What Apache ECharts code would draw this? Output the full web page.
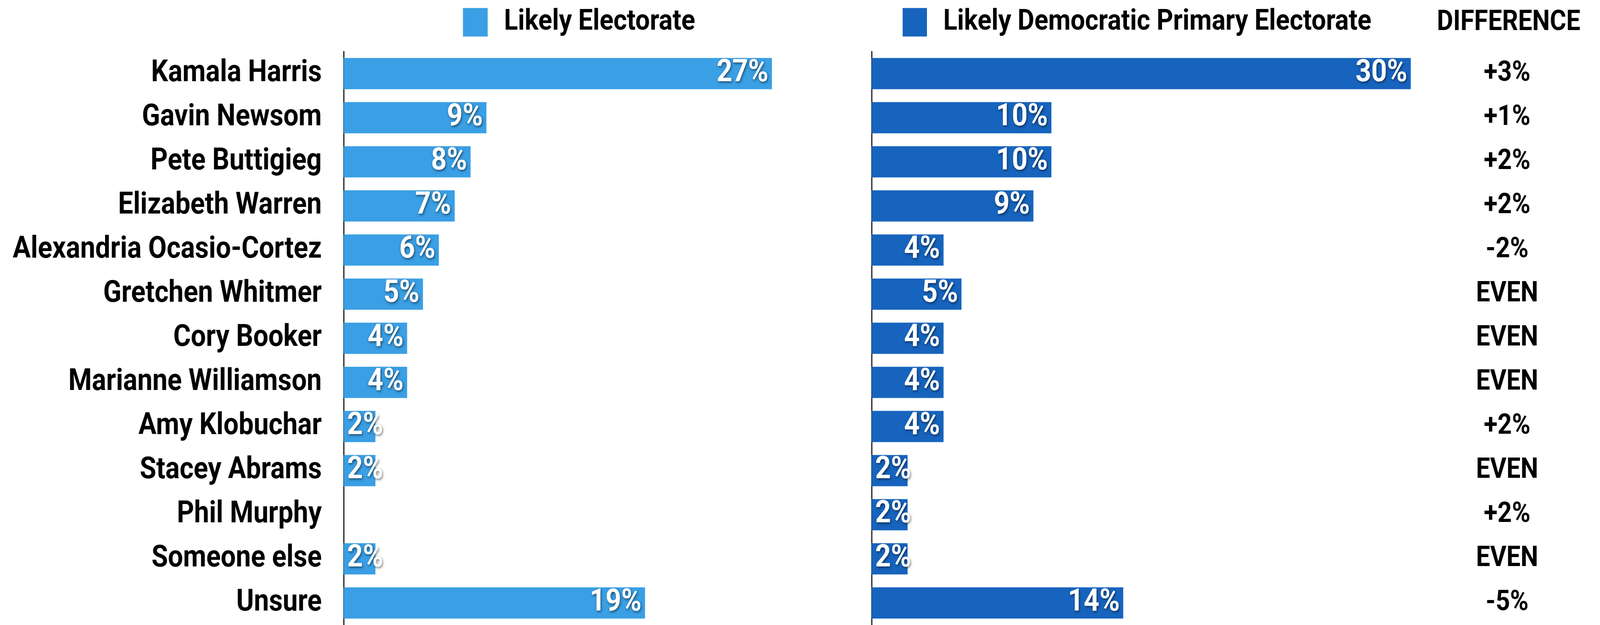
<!DOCTYPE html>
<html>
<head>
<meta charset="utf-8">
<script src="https://cdn.jsdelivr.net/npm/echarts@6/dist/echarts.min.js"></script>
<style>
html,body{margin:0;padding:0;background:#fff;overflow:hidden;}
#chart{width:4600px;height:1601px;transform-origin:0 0;}
</style>
</head>
<body>
<div id="chart"></div>
<script>
const categories = ['Kamala Harris','Gavin Newsom','Pete Buttigieg','Elizabeth Warren','Alexandria Ocasio-Cortez','Gretchen Whitmer','Cory Booker','Marianne Williamson','Amy Klobuchar','Stacey Abrams','Phil Murphy','Someone else','Unsure'];
const likelyElectorate = [27, 9, 8, 7, 6, 5, 4, 4, 2, 2, null, 2, 19];
const likelyDemPrimary = [30, 10, 10, 9, 4, 5, 4, 4, 4, 2, 2, 2, 14];
const differenceLabels = ['+3%','+1%','+2%','+2%','-2%','EVEN','EVEN','EVEN','+2%','EVEN','+2%','EVEN','-5%'];
const seriesNames = ['Likely Electorate','Likely Democratic Primary Electorate'];
const differenceTitle = 'DIFFERENCE';

// fit the 4600px-wide design into the actual window width
const el = document.getElementById('chart');
const fitX = Math.min(1, (window.innerWidth || 4600) / 4600);
el.style.transform = 'scale(' + fitX + ',1)';

const FONT = 'Roboto';
const labelBase = {
  show: true,
  color: '#fff',
  fontFamily: FONT,
  fontWeight: 'bold',
  fontSize: 79,
  distance: 10,
  textShadowColor: 'rgba(0,0,0,0.55)',
  textShadowBlur: 6,
  textShadowOffsetX: 2,
  textShadowOffsetY: 3,
  formatter: p => p.value + '%'
};
function toData(arr) {
  return arr.map(v => ({
    value: v,
    label: { position: (v !== null && v < 3) ? 'insideLeft' : 'insideRight' }
  }));
}

const chart = echarts.init(el, null, {width: 4600, height: 1601});
chart.setOption({
  backgroundColor: '#fff',
  animation: false,
  title: {
    text: differenceTitle,
    left: 4126, top: 18,
    textStyle: {fontFamily: FONT, fontWeight: 'bold', fontSize: 72, color: '#000'}
  },
  legend: [
    {data: [seriesNames[0]], left: 1331, top: 20, padding: 0, itemWidth: 71, itemHeight: 73, icon: 'rect',
     textStyle: {fontFamily: FONT, fontWeight: 'bold', fontSize: 74, color: '#000', padding: [0,0,0,42]}},
    {data: [seriesNames[1]], left: 2595, top: 20, padding: 0, itemWidth: 70, itemHeight: 73, icon: 'rect',
     textStyle: {fontFamily: FONT, fontWeight: 'bold', fontSize: 74, color: '#000', padding: [0,0,0,42]}}
  ],
  grid: [
    {left: 988, top: 132, width: 1368, height: 1475},
    {left: 2506, top: 132, width: 1550, height: 1475}
  ],
  xAxis: [
    {type: 'value', gridIndex: 0, min: 0, max: 30, show: false},
    {type: 'value', gridIndex: 1, min: 0, max: 30, show: false}
  ],
  yAxis: [
    {type: 'category', gridIndex: 0, inverse: true, data: categories,
     axisLine: {show: true, lineStyle: {color: '#000', width: 3}},
     axisTick: {show: false},
     axisLabel: {margin: 63, fontFamily: FONT, fontWeight: 'bold', fontSize: 77, color: '#000'}},
    {type: 'category', gridIndex: 1, inverse: true, data: categories,
     axisLine: {show: true, lineStyle: {color: '#000', width: 3}},
     axisTick: {show: false}, axisLabel: {show: false}},
    {type: 'category', gridIndex: 1, inverse: true, position: 'right', data: categories,
     axisLine: {show: false}, axisTick: {show: false},
     axisLabel: {margin: 277, align: 'center', fontFamily: FONT, fontWeight: 'bold', fontSize: 72, color: '#000',
       formatter: (v, i) => differenceLabels[i]}}
  ],
  series: [
    {name: seriesNames[0], type: 'bar', xAxisIndex: 0, yAxisIndex: 0, barWidth: 80,
     itemStyle: {color: '#3A9FE4'}, label: labelBase, data: toData(likelyElectorate)},
    {name: seriesNames[1], type: 'bar', xAxisIndex: 1, yAxisIndex: 1, barWidth: 80,
     itemStyle: {color: '#1764BE'}, label: labelBase, data: toData(likelyDemPrimary)}
  ]
});
</script>
</body>
</html>
